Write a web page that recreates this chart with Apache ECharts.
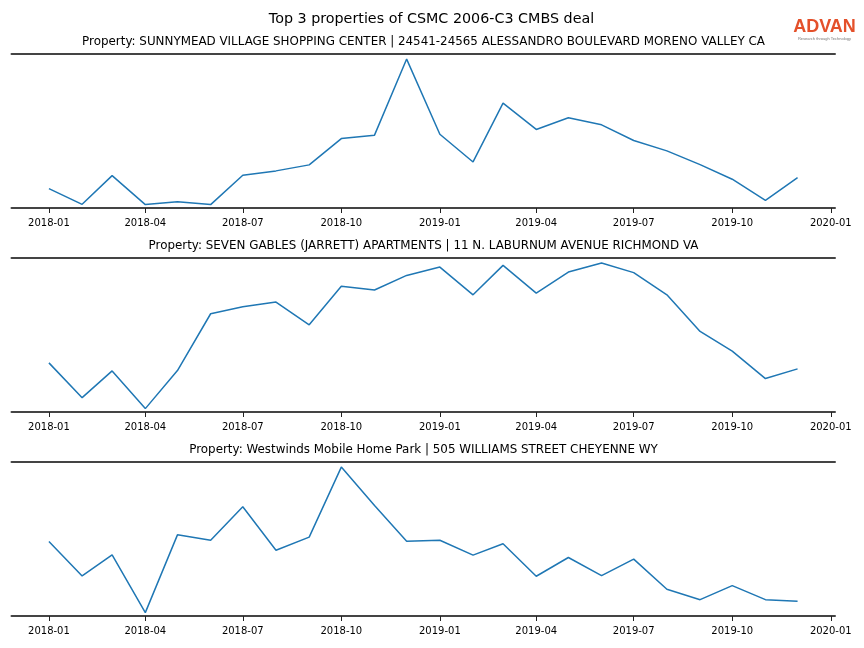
<!DOCTYPE html>
<html>
<head>
<meta charset="utf-8">
<script src="https://cdn.jsdelivr.net/npm/echarts@6/dist/echarts.min.js"></script>
<style>
html,body{margin:0;padding:0;background:#fff;}
#chart{width:864px;height:648px;}
</style>
</head>
<body>
<div id="chart"></div>
<script>
// ---- data ----
var months = ['2018-01','2018-02','2018-03','2018-04','2018-05','2018-06','2018-07','2018-08','2018-09','2018-10','2018-11','2018-12',
              '2019-01','2019-02','2019-03','2019-04','2019-05','2019-06','2019-07','2019-08','2019-09','2019-10','2019-11','2019-12'];
var sunnymead = [12.6, 2.4, 21.0, 2.2, 4.1, 2.2, 21.3, 24.1, 28.0, 45.1, 47.3, 96.7,
                 47.9, 29.9, 68.1, 51.0, 58.6, 54.0, 43.8, 37.1, 28.2, 18.7, 5.0, 19.7];
var sevenGables = [31.9, 9.3, 26.7, 2.2, 26.9, 63.8, 68.3, 71.4, 56.6, 81.6, 79.2, 88.7,
                   94.1, 76.1, 95.2, 77.2, 90.9, 96.7, 90.5, 76.1, 52.3, 39.5, 21.7, 28.0];
var westwinds = [48.4, 26.0, 39.7, 2.2, 52.7, 49.2, 70.9, 42.7, 51.2, 96.7, 71.8, 48.6,
                 49.2, 39.5, 46.9, 25.8, 38.0, 26.2, 36.9, 17.4, 10.6, 19.7, 10.6, 9.5];
var tickLabels = ['2018-01','2018-04','2018-07','2018-10','2019-01','2019-04','2019-07','2019-10','2020-01'];
var mainTitle = 'Top 3 properties of CSMC 2006-C3 CMBS deal';
var panelTitles = [
  'Property: SUNNYMEAD VILLAGE SHOPPING CENTER | 24541-24565 ALESSANDRO BOULEVARD MORENO VALLEY CA',
  'Property: SEVEN GABLES (JARRETT) APARTMENTS | 11 N. LABURNUM AVENUE RICHMOND VA',
  'Property: Westwinds Mobile Home Park | 505 WILLIAMS STREET CHEYENNE WY'
];
var seriesList = [sunnymead, sevenGables, westwinds];

// ---- helpers ----
function ts(m){ var p = m.split('-'); return Date.UTC(+p[0], +p[1]-1, 1); }
var xFirst = ts(months[0]), xLast = ts(months[months.length-1]);
var pad = (xLast - xFirst) * 0.05;
var xMin = xFirst - pad, xMax = xLast + pad;
var tickVals = tickLabels.map(ts);

var chart = echarts.init(document.getElementById('chart'), null, {renderer:'canvas'});
var gridTops = [54, 258, 462];
var grids = [], xAxes = [], yAxes = [], series = [], graphics = [];
var spineColor = '#444444';
var font = 'DejaVu Sans';

gridTops.forEach(function(top, i){
  grids.push({left: 11.5, right: 29, top: top, height: 154, containLabel: false});
  xAxes.push({
    type: 'value', gridIndex: i, position: 'bottom', min: xMin, max: xMax,
    axisLine: {show: true, lineStyle: {color: spineColor, width: 2}},
    axisTick: {show: true, customValues: tickVals, length: 5, lineStyle: {color: '#222', width: 1}},
    axisLabel: {show: true, customValues: tickVals, margin: 10, color: '#000', fontSize: 10, fontFamily: font,
      formatter: function(v){ var d = new Date(v); var mm = d.getUTCMonth()+1; return d.getUTCFullYear() + '-' + (mm<10?'0':'') + mm; }},
    splitLine: {show: false}
  });
  xAxes.push({
    type: 'value', gridIndex: i, position: 'top', min: xMin, max: xMax,
    axisLine: {show: true, lineStyle: {color: spineColor, width: 2}},
    axisTick: {show: false}, axisLabel: {show: false}, splitLine: {show: false}
  });
  yAxes.push({type: 'value', gridIndex: i, min: 0, max: 100, show: false, splitLine: {show: false}});
  series.push({
    type: 'line', xAxisIndex: i*2, yAxisIndex: i, symbol: 'none', silent: true,
    lineStyle: {color: '#1f77b4', width: 1.5},
    data: months.map(function(m, k){ return [ts(m), seriesList[i][k]]; })
  });
  graphics.push({type: 'text', x: 423.5, y: top - 12, style: {text: panelTitles[i], fill: '#000',
    font: '11.9px "' + font + '"', textAlign: 'center', textVerticalAlign: 'middle'}});
});

graphics.push({type: 'text', x: 431.5, y: 19, style: {text: mainTitle, fill: '#000',
  font: '14.3px "' + font + '"', textAlign: 'center', textVerticalAlign: 'middle'}});
graphics.push({type: 'text', x: 824.5, y: 27.5, style: {text: 'ADVAN', fill: '#e4502a',
  font: 'bold 18px "Liberation Sans"', textAlign: 'center', textVerticalAlign: 'middle'}});
graphics.push({type: 'text', x: 824.5, y: 38.5, style: {text: 'Research through Technology', fill: '#777',
  font: '4px "Liberation Sans"', textAlign: 'center', textVerticalAlign: 'middle'}});

chart.setOption({
  animation: false,
  backgroundColor: '#ffffff',
  grid: grids, xAxis: xAxes, yAxis: yAxes, series: series, graphic: graphics
});
</script>
</body>
</html>
